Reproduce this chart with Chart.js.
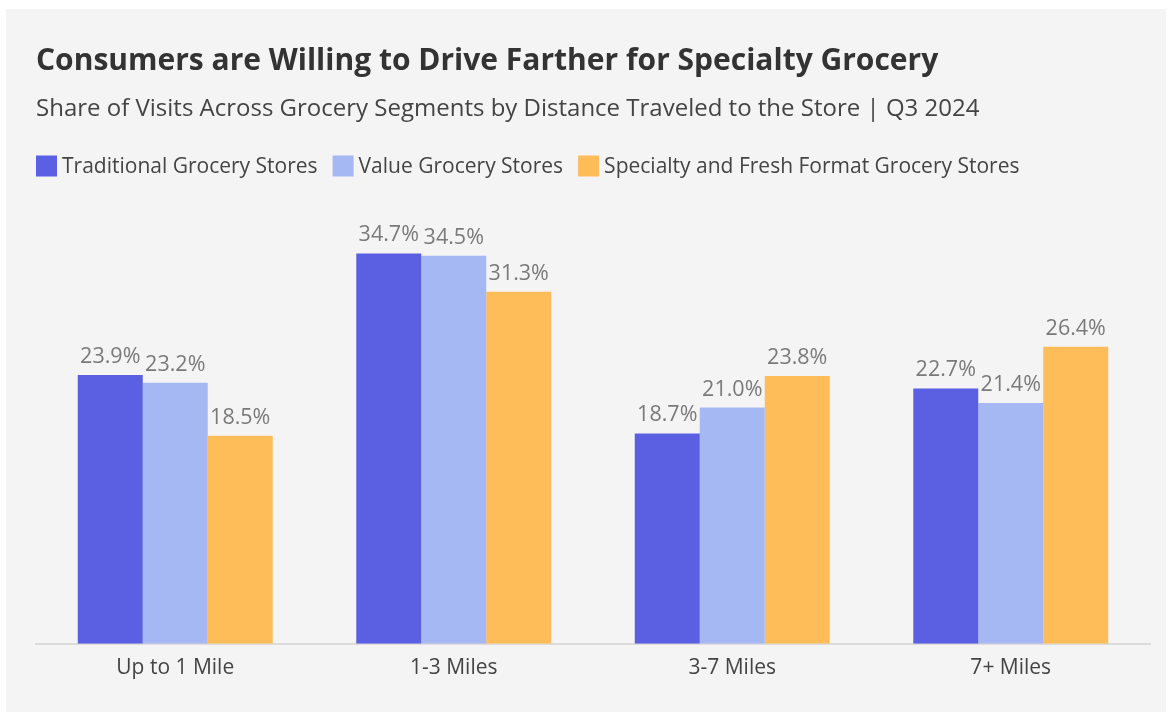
<!DOCTYPE html>
<html><head><meta charset="utf-8">
<script src="https://cdn.jsdelivr.net/npm/chart.js@4.4.1/dist/chart.umd.min.js"></script>
<style>
html,body{margin:0;padding:0;background:#fff;}
#panel{position:absolute;left:6px;top:9px;width:1160px;height:703px;background:#f4f4f4;}
#panel canvas{display:block;}
</style></head>
<body>
<div id="panel"><canvas id="c" width="1160" height="703"></canvas></div>
<script>
const categories = ["Up to 1 Mile", "1-3 Miles", "3-7 Miles", "7+ Miles"];
const seriesNames = ["Traditional Grocery Stores", "Value Grocery Stores", "Specialty and Fresh Format Grocery Stores"];
const traditional = [23.9, 34.7, 18.7, 22.7];
const value = [23.2, 34.5, 21.0, 21.4];
const specialty = [18.5, 31.3, 23.8, 26.4];
const colors = ["#5b5fe1", "#a5b8f3", "#ffbd5a"];

const labelPlugin = {
  id: 'barLabels',
  afterDatasetsDraw(chart) {
    const ctx = chart.ctx;
    ctx.save();
    ctx.font = '21.5px "Open Sans"';
    ctx.fillStyle = '#7a7a7a';
    ctx.textAlign = 'center';
    ctx.textBaseline = 'alphabetic';
    chart.data.datasets.forEach((ds, i) => {
      chart.getDatasetMeta(i).data.forEach((bar, j) => {
        ctx.fillText(ds.data[j].toFixed(1) + '%', bar.x, bar.y - 12);
      });
    });
    ctx.restore();
  }
};

const legendPlugin = {
  id: 'customLegend',
  afterDraw(chart) {
    const ctx = chart.ctx;
    ctx.save();
    ctx.font = '21px "Open Sans"';
    ctx.textBaseline = 'middle';
    let x = 30;
    const yc = 157;
    chart.data.datasets.forEach((ds, i) => {
      ctx.fillStyle = ds.backgroundColor;
      ctx.fillRect(x, yc - 10.5, 21, 21);
      ctx.fillStyle = '#444';
      ctx.fillText(ds.label, x + 26, yc + 1);
      x += 26 + ctx.measureText(ds.label).width + 15;
    });
    ctx.restore();
  }
};

new Chart(document.getElementById('c'), {
  type: 'bar',
  data: {
    labels: categories,
    datasets: [traditional, value, specialty].map((d, i) => ({
      label: seriesNames[i], data: d, backgroundColor: colors[i],
      categoryPercentage: 0.7, barPercentage: 1.0
    }))
  },
  options: {
    responsive: false, animation: false,
    layout: { padding: { left: 30, right: 16, top: 34, bottom: 27 } },
    plugins: {
      title: { display: true, text: 'Consumers are Willing to Drive Farther for Specialty Grocery',
        align: 'start', color: '#333', font: { family: 'Open Sans', size: 30, weight: 'bold' }, padding: { top: 0, bottom: 16 } },
      subtitle: { display: true, text: 'Share of Visits Across Grocery Segments by Distance Traveled to the Store | Q3 2024',
        align: 'start', color: '#444', font: { family: 'Open Sans', size: 24 }, padding: { top: 0, bottom: 70 } },
      legend: { display: false },
      tooltip: { enabled: false }
    },
    scales: {
      x: { grid: { display: false }, border: { color: '#dcdcdc', width: 2 },
        ticks: { color: '#444', font: { family: 'Open Sans', size: 21 }, padding: 4 } },
      y: { display: false, min: 0, max: 40 }
    }
  },
  plugins: [labelPlugin, legendPlugin]
});
</script>
</body></html>
